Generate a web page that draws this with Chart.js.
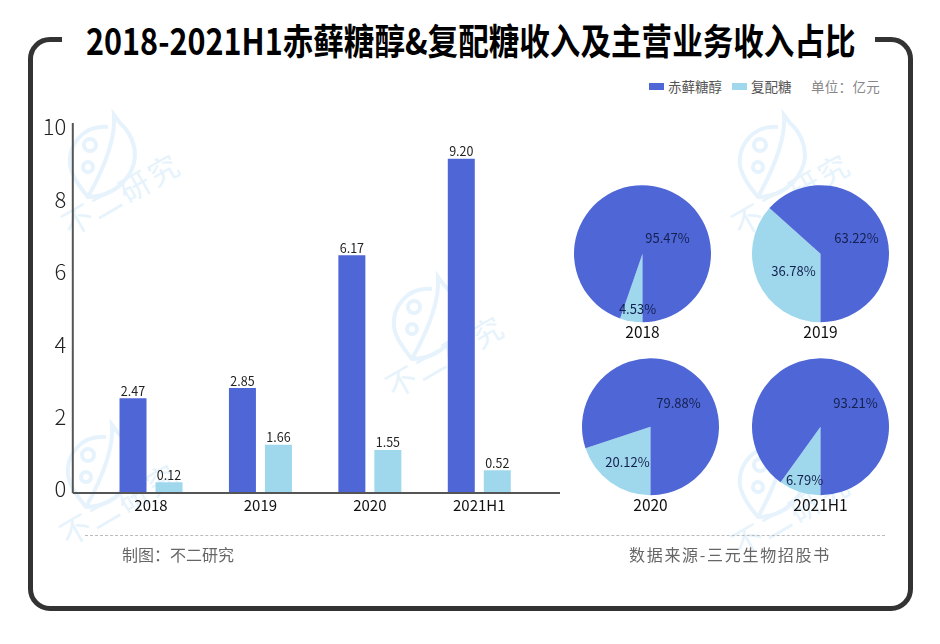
<!DOCTYPE html>
<html lang="zh">
<head>
<meta charset="utf-8">
<style>
  html, body { margin: 0; padding: 0; background: #fff; }
  body { width: 940px; height: 644px; position: relative; overflow: hidden; font-family: "Noto Sans CJK SC", sans-serif; }
  #frame { position: absolute; left: 28px; top: 37px; width: 875px; height: 564px; border: 5px solid #333; border-radius: 22px; }
  #titleBox { position: absolute; left: 62px; top: 8px; width: 813px; height: 60px; background: #fff; }
  #title { position: absolute; left: 86px; top: 14px; margin: 0; font-size: 36px; line-height: 50px; font-weight: 700; color: #000; white-space: nowrap; transform-origin: 0 0; transform: scaleX(0.849); }
  .text { position: absolute; white-space: nowrap; }
  .swatch { position: absolute; height: 7px; top: 83px; }
  #rule { position: absolute; left: 85px; top: 535px; width: 800px; border-top: 1px dashed #bbb; }
  canvas { position: absolute; }
  .mark { position: absolute; left: 0; top: 0; }
</style>
</head>
<body>
<div id="frame"></div>
<svg class="mark" id="marks" width="940" height="644"></svg>
<div id="titleBox"></div>
<h1 id="title">2018-2021H1赤藓糖醇&amp;复配糖收入及主营业务收入占比</h1>
<div class="swatch" style="left:649px;width:15px;background:#4f66d6"></div>
<div class="text" style="left:668px;top:76px;font-size:13.5px;color:#555">赤藓糖醇</div>
<div class="swatch" style="left:732px;width:15px;background:#9fd8ec"></div>
<div class="text" style="left:751px;top:76px;font-size:13.5px;color:#555">复配糖</div>
<div class="text" style="left:811px;top:76px;font-size:13.5px;color:#888;letter-spacing:0.3px">单位：亿元</div>
<canvas id="barChart" width="940" height="644" style="left:0;top:0"></canvas>
<canvas id="pie0" width="141" height="161" style="left:572px;top:185px"></canvas>
<canvas id="pie1" width="141" height="161" style="left:750px;top:185px"></canvas>
<canvas id="pie2" width="141" height="161" style="left:580px;top:358px"></canvas>
<canvas id="pie3" width="141" height="161" style="left:750px;top:358px"></canvas>
<div id="rule"></div>
<div class="text" style="left:122px;top:542px;font-size:16px;color:#666">制图：不二研究</div>
<div class="text" style="left:629px;top:542px;font-size:16px;color:#666;letter-spacing:1.7px">数据来源-三元生物招股书</div>

<script src="https://cdn.jsdelivr.net/npm/chart.js@4"></script>
<script>
const categories = ["2018", "2019", "2020", "2021H1"];
const seriesNames = ["赤藓糖醇", "复配糖"];

// the printed numbers and the drawn heights disagree in the original, so keep both
const erythritolLabels = ["2.47", "2.85", "6.17", "9.20"];
const blendLabels = ["0.12", "1.66", "1.55", "0.52"];
const erythritolHeights = [2.51, 2.79, 6.46, 9.12];
const blendHeights = [0.19, 1.22, 1.08, 0.52];

const yTicks = [0, 2, 4, 6, 8, 10];

const pieErythritolLabels = ["95.47%", "63.22%", "79.88%", "93.21%"];
const pieBlendLabels = ["4.53%", "36.78%", "20.12%", "6.79%"];
const pieErythritolShares = [94.7, 63.4, 80.1, 90.1];
const pieBlendShares = [5.3, 36.6, 19.9, 9.9];

const BLUE = "#4f66d6";
const LIGHT = "#9fd8ec";
const FONT = '"Noto Sans CJK SC", sans-serif';

// watermark
const marks = document.getElementById("marks");
[[68, 115], [738, 115], [392, 277], [66, 425], [738, 435]].forEach(([x, y]) => {
  const g = document.createElementNS("http://www.w3.org/2000/svg", "g");
  g.setAttribute("transform", `translate(${x},${y})`);
  g.innerHTML = `
    <path d="M40 12 C15 10 0 30 2 50 C4 62 12 72 20 82 C40 82 60 70 66 48 C70 30 60 15 52 8 L46 0 C48 25 35 55 20 82"
      fill="none" stroke="#e6f3fc" stroke-width="4"/>
    <circle cx="22" cy="30" r="6" fill="none" stroke="#e6f3fc" stroke-width="4"/>
    <circle cx="20" cy="52" r="5" fill="none" stroke="#e6f3fc" stroke-width="4"/>
    <text x="2" y="122" transform="rotate(-30 2 122)" font-size="30" letter-spacing="3" fill="#e6f3fc"
      font-family='"Noto Sans CJK SC"'>不二研究</text>`;
  marks.appendChild(g);
});

const yMin = -0.11;
const yMax = 10.11;

const barLabelsPlugin = {
  id: "barLabels",
  afterDatasetsDraw(chart) {
    const ctx = chart.ctx;
    ctx.save();
    ctx.font = "12.5px " + FONT;
    ctx.fillStyle = "#222";
    ctx.textAlign = "center";
    ctx.textBaseline = "bottom";
    [erythritolLabels, blendLabels].forEach((labels, i) => {
      chart.getDatasetMeta(i).data.forEach((bar, j) => {
        ctx.fillText(labels[j], bar.x, bar.y - 1);
      });
    });
    ctx.restore();
  },
};

// the axis lines run past the first and last band
const axisLinesPlugin = {
  id: "axisLines",
  afterDraw(chart) {
    const ctx = chart.ctx;
    const area = chart.chartArea;
    const left = area.left - 23.5;
    ctx.save();
    ctx.strokeStyle = "#555";
    ctx.lineWidth = 2;
    ctx.beginPath();
    ctx.moveTo(left, area.top);
    ctx.lineTo(left, area.bottom);
    ctx.moveTo(left, area.bottom);
    ctx.lineTo(area.right + 26, area.bottom);
    ctx.stroke();
    ctx.restore();
  },
};

new Chart(document.getElementById("barChart"), {
  type: "bar",
  data: {
    labels: categories,
    datasets: [
      { label: seriesNames[0], data: erythritolHeights, backgroundColor: BLUE, base: yMin },
      { label: seriesNames[1], data: blendHeights, backgroundColor: LIGHT, base: yMin },
    ],
  },
  options: {
    responsive: false,
    animation: false,
    layout: { padding: { top: 123, right: 406, bottom: 0, left: 0 } },
    categoryPercentage: 0.658,
    barPercentage: 0.75,
    plugins: { legend: { display: false }, tooltip: { enabled: false } },
    scales: {
      x: {
        grid: { display: false },
        border: { display: false },
        ticks: { padding: -5, color: "#111", font: { size: 15, family: FONT } },
        afterFit(scale) { scale.height = 151; },
      },
      y: {
        min: yMin,
        max: yMax,
        grid: { display: false },
        border: { display: false },
        ticks: { padding: 22, color: "#222", font: { size: 22, weight: "300", family: FONT } },
        afterBuildTicks(scale) { scale.ticks = yTicks.map((value) => ({ value })); },
        afterFit(scale) { scale.width = 96.3; },
      },
    },
  },
  plugins: [barLabelsPlugin, axisLinesPlugin],
});

// each label is offset from the pie centre: [blend, erythritol]
const pieLabelOffsets = [
  [[-5, 55], [25, -16]],
  [[-27, 17], [36, -16]],
  [[-23, 35], [28, -24]],
  [[-16, 53], [35, -24]],
];

const pieLabelsPlugin = {
  id: "pieLabels",
  afterDatasetsDraw(chart, args, opts) {
    const ctx = chart.ctx;
    const arc = chart.getDatasetMeta(0).data[0];
    ctx.save();
    ctx.font = "13px " + FONT;
    ctx.fillStyle = "#14204f";
    ctx.textAlign = "center";
    ctx.textBaseline = "middle";
    opts.texts.forEach((text, i) => {
      ctx.fillText(text, arc.x + opts.offsets[i][0], arc.y + opts.offsets[i][1]);
    });
    ctx.restore();
  },
};

categories.forEach((year, i) => {
  new Chart(document.getElementById("pie" + i), {
    type: "pie",
    data: {
      labels: [seriesNames[1], seriesNames[0]],
      datasets: [
        {
          data: [pieBlendShares[i], pieErythritolShares[i]],
          backgroundColor: [LIGHT, BLUE],
          borderWidth: 0,
        },
      ],
    },
    options: {
      responsive: false,
      animation: false,
      rotation: 180,
      radius: 68.5,
      layout: { padding: 0 },
      plugins: {
        legend: { display: false },
        tooltip: { enabled: false },
        title: {
          display: true,
          text: year,
          position: "bottom",
          color: "#111",
          font: { size: 15.5, weight: "normal", family: FONT },
          padding: { top: 0, bottom: 5 },
        },
        pieLabels: { texts: [pieBlendLabels[i], pieErythritolLabels[i]], offsets: pieLabelOffsets[i] },
      },
    },
    plugins: [pieLabelsPlugin],
  });
});
</script>
</body>
</html>
